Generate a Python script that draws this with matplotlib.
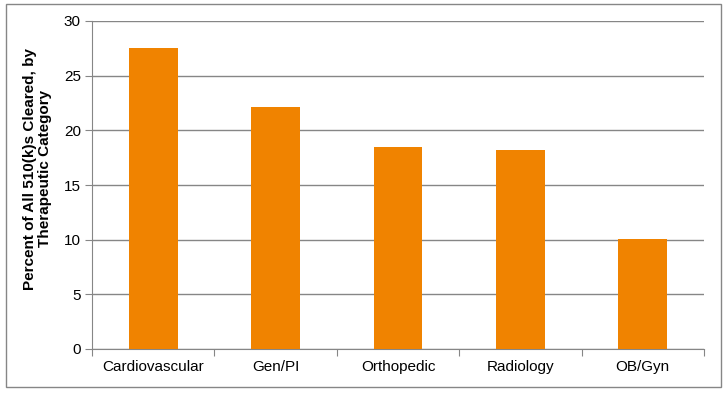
import matplotlib
matplotlib.use("Agg")
import matplotlib.pyplot as plt
from matplotlib.patches import Rectangle

# data
categories = ["Cardiovascular", "Gen/PI", "Orthopedic", "Radiology", "OB/Gyn"]
percent = [27.5, 22.1, 18.5, 18.2, 10.1]
y_ticks = [0, 5, 10, 15, 20, 25, 30]

plt.rcParams['font.family'] = ['Liberation Sans', 'DejaVu Sans']

fig = plt.figure(figsize=(7.28, 3.95), dpi=100)
ax = fig.add_axes([92 / 728, 1 - 349 / 395, (704 - 92) / 728, (349 - 21) / 395])

x = range(len(categories))
ax.bar(x, percent, width=0.4, color='#F08300', zorder=3)

ax.set_xlim(-0.5, len(categories) - 0.5)
ax.set_ylim(0, 30)
ax.set_yticks(y_ticks)
ax.set_xticks([i - 0.5 for i in range(len(categories) + 1)], minor=False)
ax.set_xticklabels([])
ax.set_xticks(list(x), minor=True)
ax.set_xticklabels(categories, minor=True)
ax.tick_params(axis='x', which='minor', length=0, labelsize=11, pad=8)
ax.tick_params(axis='x', which='major', length=5, direction='out', color='#868686')
ax.tick_params(axis='y', length=5, direction='out', color='#868686', labelsize=11, pad=3)

ax.yaxis.grid(True, color='#868686', linewidth=1, zorder=0)
for s in ['top', 'right']:
    ax.spines[s].set_visible(False)
for s in ['left', 'bottom']:
    ax.spines[s].set_color('#868686')

ax.set_ylabel("Percent of All 510(k)s Cleared, by\nTherapeutic Category",
              fontsize=11, fontweight='bold', linespacing=1.1)
ax.yaxis.set_label_coords(-0.066, 0.55)

# outer border
fig.patches.append(Rectangle((6 / 728, 1 - 387 / 395), (721 - 6) / 728, (387 - 4) / 395,
                             transform=fig.transFigure, fill=False,
                             edgecolor='#868686', linewidth=1))

fig.savefig("out.png", dpi=100)
